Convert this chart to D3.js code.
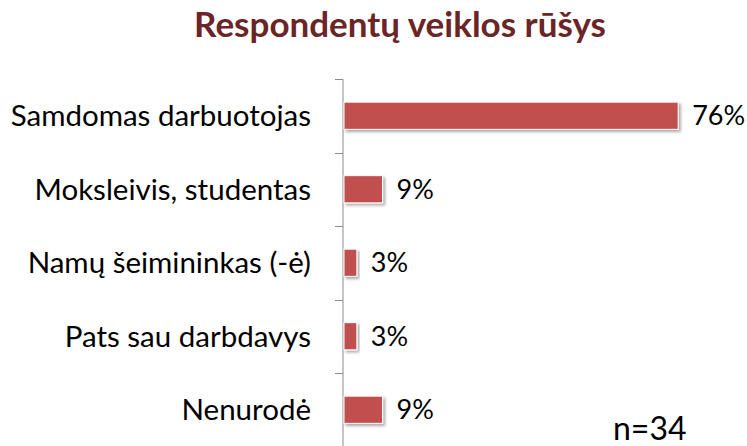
<!DOCTYPE html>
<html><head><meta charset="utf-8">
<script src="https://cdn.jsdelivr.net/npm/d3@7"></script>
<style>body{margin:0;background:#fff}svg{display:block}</style>
</head><body>
<script>
const title = "Respondentų veiklos rūšys";
const categories = ["Samdomas darbuotojas","Moksleivis, studentas","Namų šeimininkas (-ė)","Pats sau darbdavys","Nenurodė"];
const values = [76.47, 8.82, 2.94, 2.94, 8.82];
const valueLabels = ["76%","9%","3%","3%","9%"];
const note = "n=34";

const W=747,H=446;
const svg=d3.select("body").append("svg").attr("width",W).attr("height",H);
const defs=svg.append("defs");
const f=defs.append("filter").attr("id","sh").attr("x","-10%").attr("y","-30%").attr("width","130%").attr("height","170%");
f.append("feDropShadow").attr("dx",2).attr("dy",2).attr("stdDeviation",1.5).attr("flood-color","#000").attr("flood-opacity",0.35);

const x0=343;
const x=d3.scaleLinear().domain([0,100]).range([x0,x0+437]);
const y=d3.scaleBand().domain(categories).range([79,446.5]).paddingInner(0.63).paddingOuter(0.315);

const font="Lato, 'Open Sans', sans-serif";
svg.append("text").attr("x",400).attr("y",37).attr("text-anchor","middle")
  .attr("font-family",font).attr("font-weight","bold").attr("font-size",35).attr("fill","#6B2526").text(title);

const ax=svg.append("g").attr("transform",`translate(${x0},0)`)
  .call(d3.axisLeft(y).tickSize(8).tickFormat(""));
ax.select(".domain").attr("stroke","#8c8c8c").attr("d",`M-8,79.5H0V446.5`);
ax.selectAll(".tick").remove();
const bounds=categories.map((c,i)=>i===0?79:(y(categories[i-1])+y(c)+y.bandwidth())/2);
ax.selectAll("line.b").data(bounds.slice(1)).enter().append("line")
  .attr("x1",-8).attr("x2",0).attr("y1",d=>Math.round(d)+0.5).attr("y2",d=>Math.round(d)+0.5).attr("stroke","#8c8c8c");

svg.selectAll("text.cat").data(categories).enter().append("text").attr("class","cat")
  .attr("x",311).attr("y",d=>y(d)+y.bandwidth()/2).attr("dy","0.35em").attr("text-anchor","end")
  .attr("font-family",font).attr("font-size",29.5).attr("fill","#000").text(d=>d);

svg.selectAll("rect.bar").data(values).enter().append("rect").attr("class","bar")
  .attr("x",x(0)+1).attr("y",(d,i)=>y(categories[i])).attr("width",d=>x(d)-x(0)).attr("height",y.bandwidth())
  .attr("fill","#C0504D").attr("stroke","#fff").attr("stroke-width",1).attr("filter","url(#sh)");

svg.selectAll("text.val").data(values).enter().append("text").attr("class","val")
  .attr("x",d=>x(d)+15).attr("y",(d,i)=>y(categories[i])+y.bandwidth()/2).attr("dy","0.35em")
  .attr("font-family",font).attr("font-size",27).attr("fill","#000").text((d,i)=>valueLabels[i]);

svg.append("text").attr("x",613).attr("y",440).attr("font-family",font).attr("font-size",32).attr("fill","#000").text(note);
</script>
</body></html>
